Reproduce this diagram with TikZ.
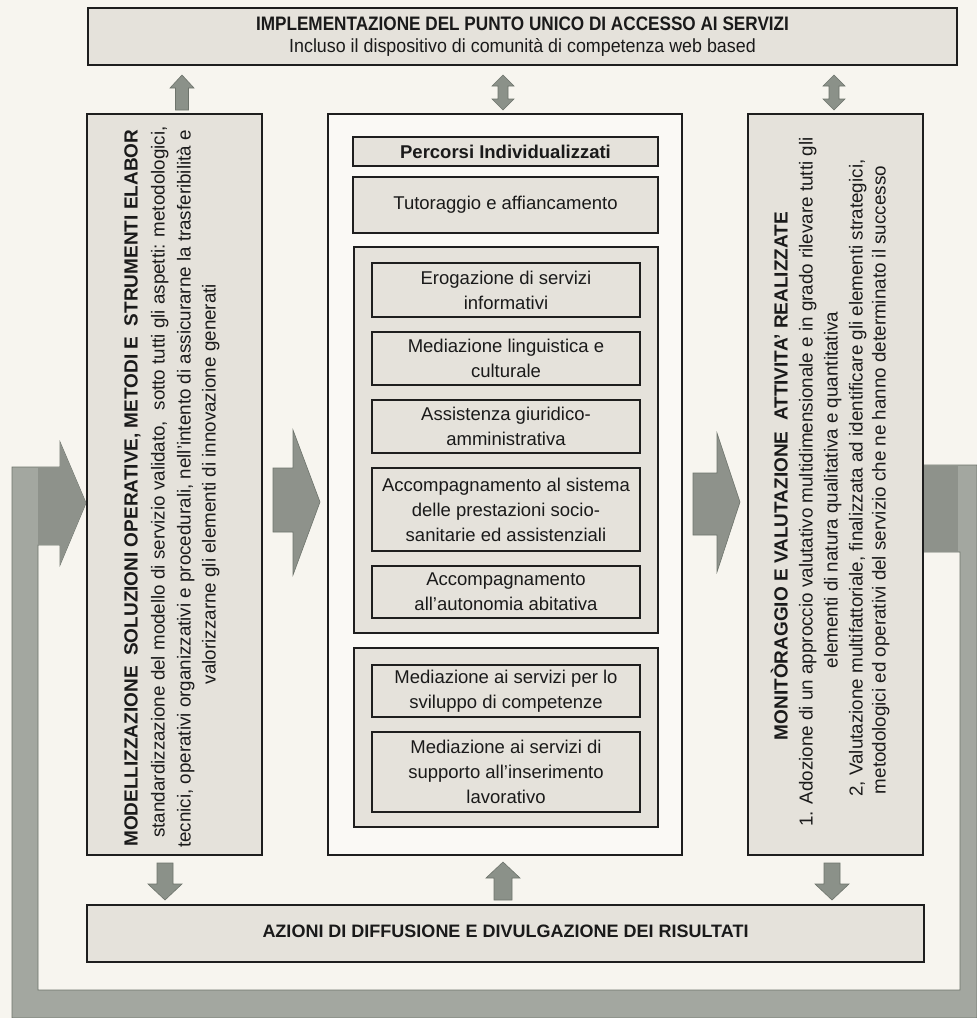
\documentclass[tikz,border=0pt]{standalone}
\usepackage{fontspec}
\setmainfont{Liberation Sans}
\newfontfamily\hdrnarrow[FakeStretch=0.88]{Liberation Sans}
\newfontfamily\hdrnarrowb[FakeStretch=0.94]{Liberation Sans}
\definecolor{bg}{HTML}{F7F5EF}
\definecolor{boxfill}{HTML}{E5E2DB}
\definecolor{innerfill}{HTML}{FAF9F5}
\definecolor{edge}{HTML}{1E1E1E}
\definecolor{arr}{HTML}{8B9189}
\definecolor{arredge}{HTML}{6E746C}
\definecolor{framecol}{HTML}{A3A7A0}
\definecolor{framedark}{HTML}{8E928B}
\definecolor{txt}{HTML}{1A1A1A}
\begin{document}
\begin{tikzpicture}[x=1pt,y=-1pt,
  box/.style={draw=edge, line width=1.8pt, fill=boxfill, rectangle, inner sep=0pt, outer sep=0pt},
  whitebox/.style={box, fill=innerfill},
  groupbox/.style={draw=edge, line width=1.6pt, fill=boxfill, inner sep=0pt},
  item/.style={draw=edge, line width=1.4pt, fill=boxfill, inner sep=0pt, align=center, text=txt,
    font=\fontsize{18.5}{25}\selectfont, minimum width=268pt},
  vline/.style={rotate=90, inner sep=0pt, text=txt, font=\fontsize{18.8}{20}\selectfont, anchor=mid},
  vbold/.style={vline, font=\bfseries\fontsize{19}{20}\selectfont},
  hdr/.style={inner sep=0pt, text=txt, anchor=mid},
  bigarrow/.style={fill=framedark, draw=arredge, line width=0.6pt},
  smallarrow/.style={fill=arr, draw=arredge, line width=0.6pt}
]
\useasboundingbox (0,0) rectangle (977,1018);
\fill[bg] (0,0) rectangle (977,1018);

% return frame
\path[fill=framecol, draw=arredge, line width=0.8pt]
  (923,465) -- (977,465) -- (977,1018) -- (12,1018) -- (12,467) -- (60,467)
  -- (60,442) -- (86,503) -- (60,565) -- (60,545) -- (38,545) -- (38,990)
  -- (960,990) -- (960,552) -- (923,552) -- cycle;
\fill[framedark] (38,467.5) -- (60,467.5) -- (60,442) -- (86,503) -- (60,565) -- (60,544.5) -- (38,544.5) -- cycle;
\fill[framedark] (923,465.5) rectangle (958,551.5);

% top box
\node[box, minimum width=869pt, minimum height=57pt] (top) at (522.5,36.5) {};
\node[hdr, font=\hdrnarrow\bfseries\fontsize{19.5}{20}\selectfont] (topt1) at (522.5,28) {IMPLEMENTAZIONE DEL PUNTO UNICO DI ACCESSO AI SERVIZI};
\node[hdr, font=\hdrnarrowb\fontsize{19}{20}\selectfont] (topt2) at (522.5,50) {Incluso il dispositivo di comunità di competenza web based};

% bottom box
\node[box, minimum width=837pt, minimum height=57pt] (bot) at (505.5,933.5) {};
\node[hdr, font=\bfseries\fontsize{18}{20}\selectfont] (bott) at (505.5,935) {AZIONI DI DIFFUSIONE E DIVULGAZIONE DEI RISULTATI};

% columns
\node[box, minimum width=175pt, minimum height=741pt] (left) at (174.5,484.5) {};
\node[whitebox, minimum width=354pt, minimum height=741pt] (mid) at (505,484.5) {};
\node[box, minimum width=175pt, minimum height=741pt] (right) at (835.5,484.5) {};

% left column text
\node[vbold, anchor=mid west] (l1) at (135,847) {MODELLIZZAZIONE\ \ SOLUZIONI OPERATIVE, METODI E\ \ STRUMENTI ELABOR};
\node[vline] (l2) at (162,482) {standardizzazione del modello di servizio validato,\ \ sotto tutti gli aspetti: metodologici,};
\node[vline] (l3) at (188,489) {tecnici, operativi organizzativi e procedurali, nell’intento di assicurarne la trasferibilità e};
\node[vline] (l4) at (213,484) {valorizzarne gli elementi di innovazione generati};

% right column text
\node[vbold] (r1) at (785,476) {MONITÒRAGGIO E VALUTAZIONE\ \ ATTIVITA' REALIZZATE};
\node[vline] (r2) at (810,482) {1. Adozione di un approccio valutativo multidimensionale e in grado rilevare tutti gli};
\node[vline] (r3) at (835,490) {elementi di natura qualitativa e quantitativa};
\node[vline] (r4) at (860,478) {2, Valutazione multifattoriale, finalizzata ad identificare gli elementi strategici,};
\node[vline] (r5) at (883,480) {metodologici ed operativi del servizio che ne hanno determinato il successo};

% middle content
\node[item, minimum width=305pt, minimum height=29pt, font=\bfseries\fontsize{18.5}{25}\selectfont] (perc) at (505.5,151.5) {Percorsi Individualizzati};
\node[item, minimum width=305pt, minimum height=56pt, line width=1.6pt] (tut) at (505.5,205) {Tutoraggio e affiancamento};
\node[groupbox, minimum width=304pt, minimum height=386pt] (g1) at (506,440) {};
\node[groupbox, minimum width=304pt, minimum height=179pt] (g2) at (506,737.5) {};
\node[item, minimum height=54pt] (i1) at (506,290) {Erogazione di servizi\\informativi};
\node[item, minimum height=53pt] (i2) at (506,358.5) {Mediazione linguistica e\\culturale};
\node[item, minimum height=53pt] (i3) at (506,426.5) {Assistenza giuridico-\\amministrativa};
\node[item, minimum height=83pt] (i4) at (506,509.5) {Accompagnamento al sistema\\delle prestazioni socio-\\sanitarie ed assistenziali};
\node[item, minimum height=52pt] (i5) at (506,592) {Accompagnamento\\all’autonomia abitativa};
\node[item, minimum height=52pt] (i6) at (506,691) {Mediazione ai servizi per lo\\sviluppo di competenze};
\node[item, minimum height=80pt] (i7) at (506,772) {Mediazione ai servizi di\\supporto all’inserimento\\lavorativo};

% big arrows between columns
\path[bigarrow] (273,468) -- (293,468) -- (293,430) -- (320,502) -- (293,575) -- (293,532) -- (273,532) -- cycle;
\path[bigarrow] (693,473) -- (717,473) -- (717,433) -- (740,502) -- (717,572) -- (717,535) -- (693,535) -- cycle;

% small arrows, top
\path[smallarrow] (182,75) -- (194,88) -- (188.5,88) -- (188.5,110) -- (175.5,110) -- (175.5,88) -- (170,88) -- cycle;
\path[smallarrow] (503,75) -- (514,86) -- (508,86) -- (508,99) -- (514,99) -- (503,110) -- (492,99) -- (498,99) -- (498,86) -- (492,86) -- cycle;
\path[smallarrow] (834,75) -- (845,86) -- (839,86) -- (839,99) -- (845,99) -- (834,110) -- (823,99) -- (829,99) -- (829,86) -- (823,86) -- cycle;

% small arrows, bottom
\path[smallarrow] (157,863) -- (173,863) -- (173,884) -- (182,884) -- (165,900) -- (148,884) -- (157,884) -- cycle;
\path[smallarrow] (503,862) -- (520,878) -- (512,878) -- (512,900) -- (494,900) -- (494,878) -- (486,878) -- cycle;
\path[smallarrow] (824,863) -- (840,863) -- (840,884) -- (849,884) -- (832,900) -- (815,884) -- (824,884) -- cycle;
\end{tikzpicture}
\end{document}
